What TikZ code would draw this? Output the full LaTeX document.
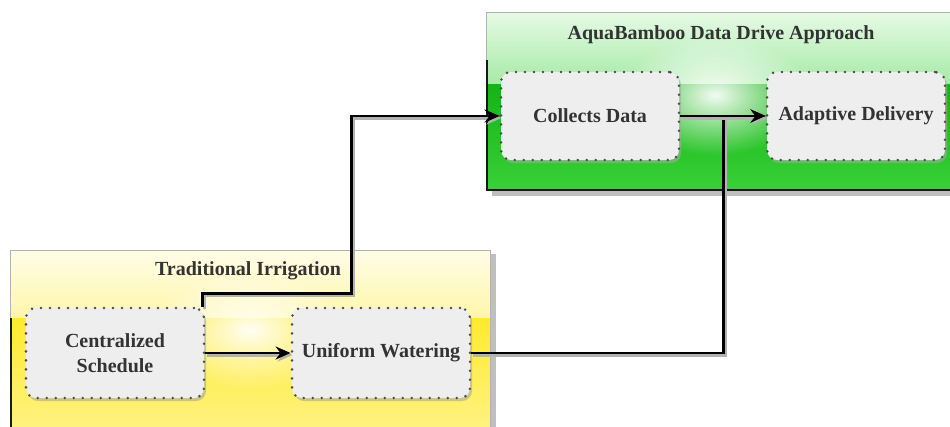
\documentclass[tikz,border=0pt]{standalone}
\usepackage{fontspec}
\setmainfont{Liberation Serif}
\usetikzlibrary{arrows.meta,fadings,calc}
\definecolor{gdark}{HTML}{16C816}
\definecolor{glight}{HTML}{E6FAE6}
\definecolor{gmid}{HTML}{A6EAA6}
\definecolor{ydark}{HTML}{FFEA2E}
\definecolor{ylight}{HTML}{FFFDE8}
\definecolor{ymid}{HTML}{FFF6A8}
\definecolor{boxfill}{HTML}{EEEEEE}
\tikzfading[name=glow, inner color=transparent!0, outer color=transparent!100]
\tikzset{
  inner/.style={draw=black!70, line width=2.8pt, dash pattern=on 0pt off 9pt, line cap=round,
    fill=boxfill, rounded corners=10pt,
    minimum width=178pt, minimum height=88pt, align=center, font=\fontsize{20}{25}\selectfont\bfseries,
    text=black!80,
    preaction={fill=black!35, opacity=0.6, transform canvas={shift={(2pt,-3pt)}}}},
  title/.style={font=\fontsize{20}{24}\selectfont\bfseries, text=black!80},
  conn/.style={line width=2.6pt, -{Stealth[length=15pt,width=13pt]}, black,
    preaction={draw=black!30, line width=3.4pt, transform canvas={shift={(2pt,-2pt)}}}},
}
\begin{document}
\begin{tikzpicture}[x=1pt,y=-1pt]
\useasboundingbox (0,0) rectangle (950,426);
\begin{scope}
\clip (0,0) rectangle (950,426);
% green container
\fill[black!25] (492,16) rectangle (960,196);
\shade[top color=glight, bottom color=gmid] (486,12) rectangle (960,84);
\shade[top color=gdark!90!black, bottom color=gdark!85] (486,84) rectangle (960,190);
\fill[white, path fading=glow, opacity=0.95] (715,95) ellipse (95 and 60);
\node[draw=black!30, line width=0.8pt, minimum width=474pt, minimum height=178pt, inner sep=0pt] (green) at (723,101) {};
\draw[line width=2.6pt, black!90] (487,60) -- (487,190) -- (960,190);
\node[title] (gt) at (721,35) {AquaBamboo Data Drive Approach};
% yellow container
\fill[black!25] (16,254) rectangle (496,430);
\shade[top color=ylight, bottom color=ymid] (10,250) rectangle (490,318);
\shade[top color=ydark, bottom color=ydark!60!white] (10,318) rectangle (490,430);
\fill[white, path fading=glow, opacity=0.95] (250,330) ellipse (100 and 60);
\node[draw=black!30, line width=0.8pt, minimum width=480pt, minimum height=180pt, inner sep=0pt] (yellow) at (250,340) {};
\draw[line width=2.6pt, black!90] (11,318) -- (11,430);
\node[title] (yt) at (248,271) {Traditional Irrigation};
\end{scope}
% inner nodes
\node[inner] (cd) at (590,116) {Collects Data};
\node[inner] (ad) at (856,116) {Adaptive Delivery};
\node[inner, minimum height=90pt] (cs) at (115,353) {Centralized\\Schedule};
\node[inner, minimum height=90pt] (uw) at (381,353) {Uniform Watering};
% connectors
\draw[conn] ([xshift=-3pt]cs.north east) -- ++(0,-13) -- ++(149,0) |- (cd.west);
\draw[conn] (cs.east) -- (uw.west);
\draw[conn] (uw.east) -- ++(252,0) |- (ad.west);
\draw[conn] (cd.east) -- (ad.west);
\end{tikzpicture}
\end{document}
